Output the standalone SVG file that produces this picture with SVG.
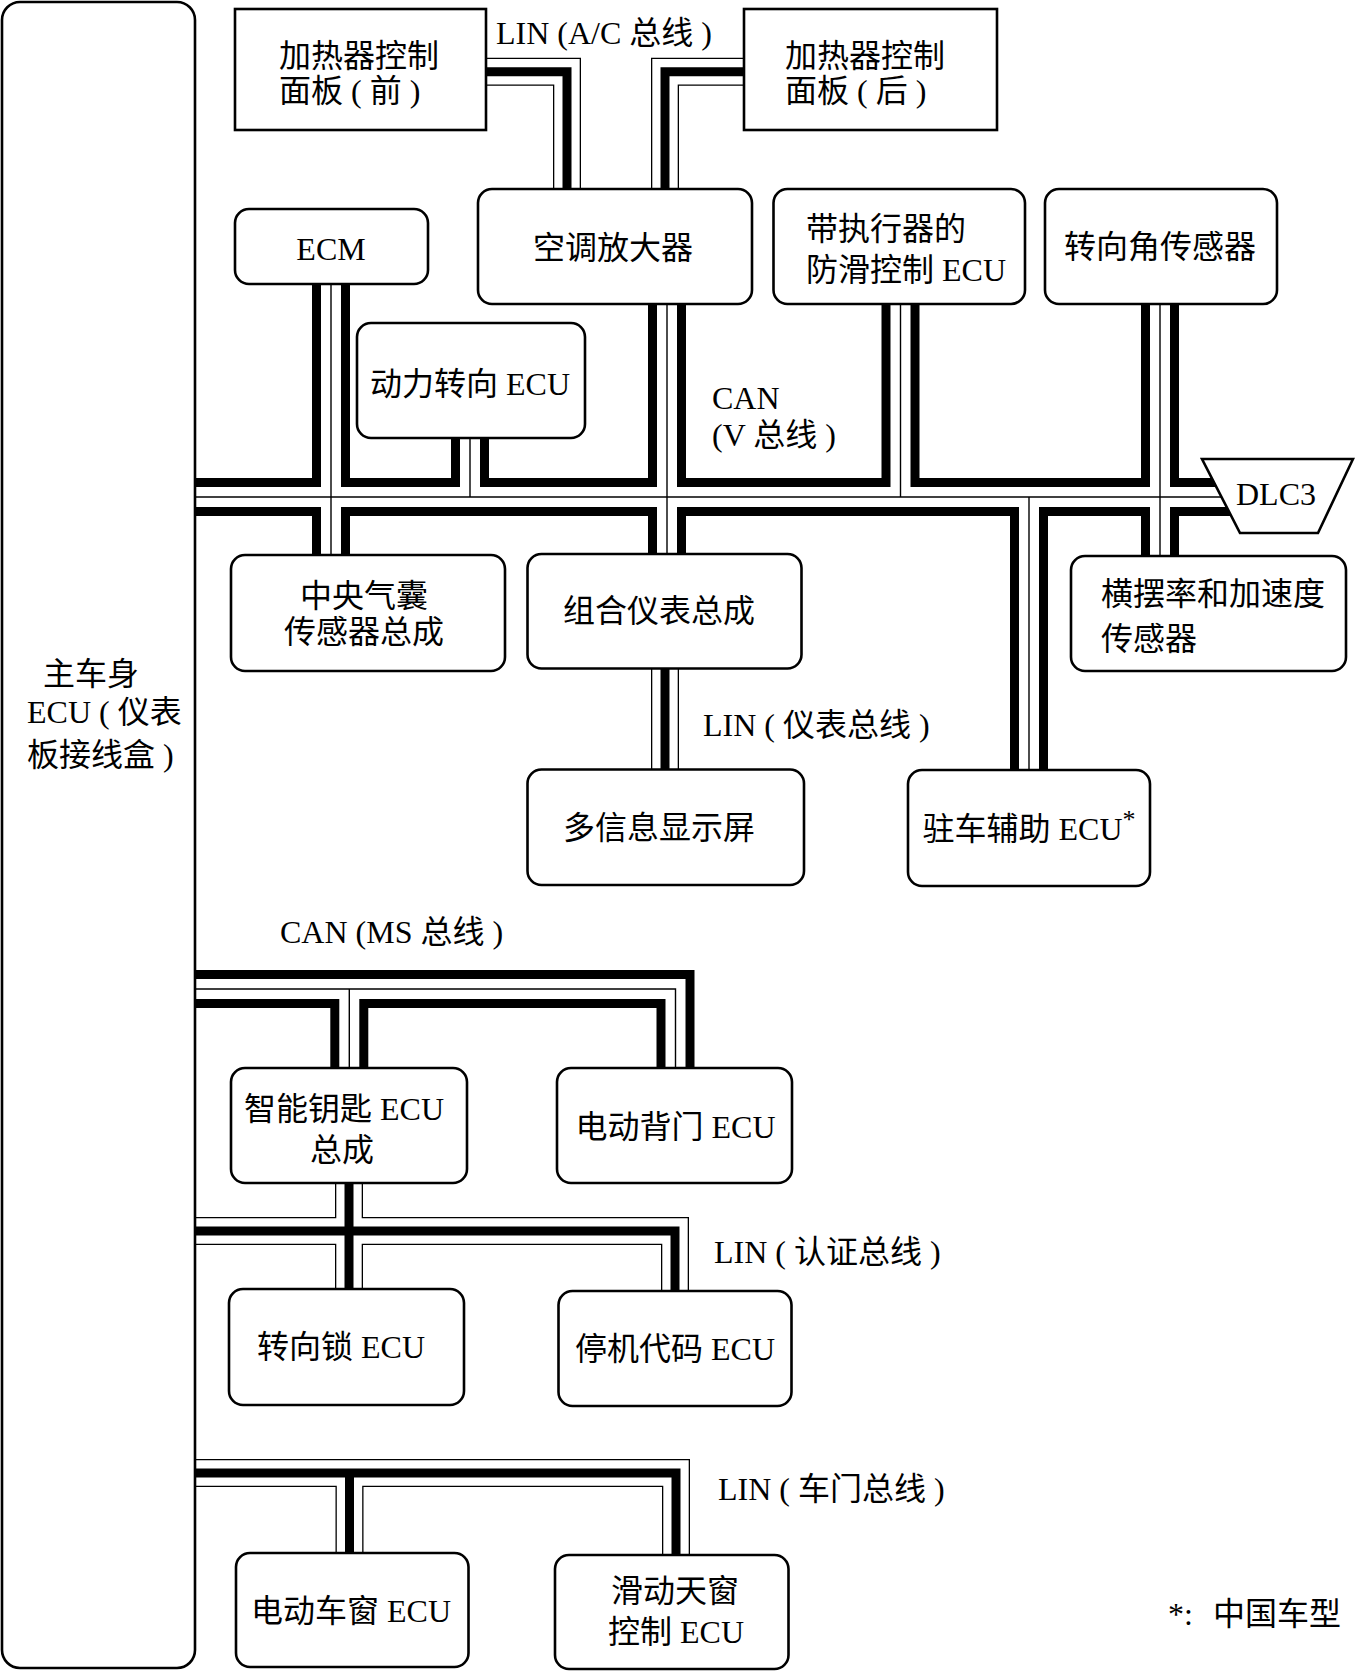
<svg xmlns="http://www.w3.org/2000/svg" xmlns:xlink="http://www.w3.org/1999/xlink" width="1355" height="1671" viewBox="0 0 1355 1671">
<style>
.box{fill:#fff;stroke:#000;stroke-width:2.6}
.t{font-family:"Liberation Serif","Noto Sans CJK SC",serif;font-size:32px;fill:#000}
.m{text-anchor:middle}
.can1{fill:none;stroke:#000;stroke-width:38;stroke-linejoin:miter}
.can2{fill:none;stroke:#fff;stroke-width:20;stroke-linejoin:miter}
.can3{fill:none;stroke:#000;stroke-width:1.4;stroke-linejoin:miter}
.lin1{fill:none;stroke:#000;stroke-width:28;stroke-linejoin:miter}
.lin2{fill:none;stroke:#fff;stroke-width:25.4;stroke-linejoin:miter}
.lin3{fill:none;stroke:#000;stroke-width:9;stroke-linejoin:miter}
</style>
<defs>
<path id="cv0" d="M180,497 H1255"/>
<path id="cv1" d="M331,278 V560"/>
<path id="cv2" d="M470,432 V497"/>
<path id="cv3" d="M667,298 V560"/>
<path id="cv4" d="M900.5,298 V497"/>
<path id="cv5" d="M1160,298 V562"/>
<path id="cv6" d="M1029,497 V776"/>
<path id="cm0" d="M180,989 H675.5 V1074"/>
<path id="cm1" d="M349.3,989 V1074"/>
<path id="la0" d="M480,71.7 H567 V195"/>
<path id="la1" d="M752,71.7 H665 V195"/>
<path id="li0" d="M665,662 V775"/>
<path id="lr0" d="M180,1231 H675 V1297"/>
<path id="lr1" d="M349,1177 V1295"/>
<path id="ld0" d="M180,1473 H676 V1561"/>
<path id="ld1" d="M349.5,1473 V1559"/>
</defs>
<g id="connectors">
<g id="can-v-bus">
<use xlink:href="#cv0" class="can1"/><use xlink:href="#cv1" class="can1"/><use xlink:href="#cv2" class="can1"/><use xlink:href="#cv3" class="can1"/><use xlink:href="#cv4" class="can1"/><use xlink:href="#cv5" class="can1"/><use xlink:href="#cv6" class="can1"/>
<use xlink:href="#cv0" class="can2"/><use xlink:href="#cv1" class="can2"/><use xlink:href="#cv2" class="can2"/><use xlink:href="#cv3" class="can2"/><use xlink:href="#cv4" class="can2"/><use xlink:href="#cv5" class="can2"/><use xlink:href="#cv6" class="can2"/>
<use xlink:href="#cv0" class="can3"/><use xlink:href="#cv1" class="can3"/><use xlink:href="#cv2" class="can3"/><use xlink:href="#cv3" class="can3"/><use xlink:href="#cv4" class="can3"/><use xlink:href="#cv5" class="can3"/><use xlink:href="#cv6" class="can3"/>
</g>
<g id="can-ms-bus">
<use xlink:href="#cm0" class="can1"/><use xlink:href="#cm1" class="can1"/>
<use xlink:href="#cm0" class="can2"/><use xlink:href="#cm1" class="can2"/>
<use xlink:href="#cm0" class="can3"/><use xlink:href="#cm1" class="can3"/>
</g>
<g id="lin-buses">
<use xlink:href="#la0" class="lin1"/><use xlink:href="#la1" class="lin1"/><use xlink:href="#li0" class="lin1"/><use xlink:href="#lr0" class="lin1"/><use xlink:href="#lr1" class="lin1"/><use xlink:href="#ld0" class="lin1"/><use xlink:href="#ld1" class="lin1"/>
<use xlink:href="#la0" class="lin2"/><use xlink:href="#la1" class="lin2"/><use xlink:href="#li0" class="lin2"/><use xlink:href="#lr0" class="lin2"/><use xlink:href="#lr1" class="lin2"/><use xlink:href="#ld0" class="lin2"/><use xlink:href="#ld1" class="lin2"/>
<use xlink:href="#la0" class="lin3"/><use xlink:href="#la1" class="lin3"/><use xlink:href="#li0" class="lin3"/><use xlink:href="#lr0" class="lin3"/><use xlink:href="#lr1" class="lin3"/><use xlink:href="#ld0" class="lin3"/><use xlink:href="#ld1" class="lin3"/>
</g>
</g>
<g id="labels">
<text class="t" x="496" y="43.5">LIN (A/C 总线 )</text>
<text class="t" x="712" y="409">CAN</text>
<text class="t" x="712" y="446">(V 总线 )</text>
<text class="t" x="703" y="736">LIN ( 仪表总线 )</text>
<text class="t" x="280" y="943">CAN (MS 总线 )</text>
<text class="t" x="714" y="1263">LIN ( 认证总线 )</text>
<text class="t" x="718" y="1500">LIN ( 车门总线 )</text>
<text class="t" x="1168" y="1625">*:<tspan x="1213">中国车型</tspan></text>
</g>
<g id="main-body-ecu">
<rect class="box" x="2" y="2" width="193" height="1666" rx="18"/>
<text class="t" x="43" y="685">主车身</text>
<text class="t" x="27" y="723">ECU ( 仪表</text>
<text class="t" x="27" y="766">板接线盒 )</text>
</g>
<g id="heater-front">
<rect class="box" x="235" y="9" width="251" height="121"/>
<text class="t" x="279" y="67">加热器控制</text>
<text class="t" x="279" y="102">面板 ( 前 )</text>
</g>
<g id="heater-rear">
<rect class="box" x="744" y="9" width="253" height="121"/>
<text class="t" x="785" y="67">加热器控制</text>
<text class="t" x="785" y="102">面板 ( 后 )</text>
</g>
<g id="ecm">
<rect class="box" x="235" y="209" width="193" height="75" rx="14"/>
<text class="t m" x="331" y="260">ECM</text>
</g>
<g id="ac-amplifier">
<rect class="box" x="478" y="189" width="274" height="115" rx="14"/>
<text class="t m" x="613" y="259">空调放大器</text>
</g>
<g id="skid-control-ecu">
<rect class="box" x="773.5" y="189" width="251.5" height="115" rx="14"/>
<text class="t" x="806" y="240">带执行器的</text>
<text class="t" x="806" y="281">防滑控制 ECU</text>
</g>
<g id="steering-angle-sensor">
<rect class="box" x="1045" y="189" width="232" height="115" rx="14"/>
<text class="t m" x="1160" y="258">转向角传感器</text>
</g>
<g id="eps-ecu">
<rect class="box" x="357" y="323" width="228" height="115" rx="14"/>
<text class="t m" x="470" y="395">动力转向 ECU</text>
</g>
<g id="dlc3">
<polygon class="box" points="1202,459 1353,459 1318,533 1240,533"/>
<text class="t m" x="1276" y="505">DLC3</text>
</g>
<g id="airbag-sensor">
<rect class="box" x="231" y="555" width="274" height="116" rx="14"/>
<text class="t m" x="364" y="607">中央气囊</text>
<text class="t m" x="364" y="643">传感器总成</text>
</g>
<g id="combination-meter">
<rect class="box" x="527.5" y="554" width="274" height="114.5" rx="14"/>
<text class="t m" x="659" y="622">组合仪表总成</text>
</g>
<g id="yaw-rate-sensor">
<rect class="box" x="1071" y="556" width="275" height="115" rx="14"/>
<text class="t" x="1101" y="605">横摆率和加速度</text>
<text class="t" x="1101" y="650">传感器</text>
</g>
<g id="multi-info-display">
<rect class="box" x="527.5" y="769.5" width="276.5" height="115.5" rx="14"/>
<text class="t m" x="659" y="839">多信息显示屏</text>
</g>
<g id="parking-assist-ecu">
<rect class="box" x="908" y="770" width="242" height="116" rx="14"/>
<text class="t m" x="1029" y="840">驻车辅助 ECU<tspan font-size="26" dy="-12">*</tspan></text>
</g>
<g id="smart-key-ecu">
<rect class="box" x="231" y="1068" width="236" height="115" rx="14"/>
<text class="t m" x="344" y="1120">智能钥匙 ECU</text>
<text class="t m" x="342" y="1161">总成</text>
</g>
<g id="back-door-ecu">
<rect class="box" x="557" y="1068" width="235" height="115" rx="14"/>
<text class="t m" x="675.5" y="1138">电动背门 ECU</text>
</g>
<g id="steering-lock-ecu">
<rect class="box" x="229" y="1289" width="235" height="116" rx="14"/>
<text class="t m" x="341" y="1358">转向锁 ECU</text>
</g>
<g id="immobiliser-ecu">
<rect class="box" x="558.5" y="1291" width="233" height="115" rx="14"/>
<text class="t m" x="675" y="1360">停机代码 ECU</text>
</g>
<g id="power-window-ecu">
<rect class="box" x="236" y="1553" width="232.5" height="114" rx="14"/>
<text class="t m" x="351" y="1622">电动车窗 ECU</text>
</g>
<g id="sunroof-ecu">
<rect class="box" x="555" y="1555" width="233.5" height="114" rx="14"/>
<text class="t m" x="675" y="1602">滑动天窗</text>
<text class="t m" x="676" y="1643">控制 ECU</text>
</g>
</svg>
